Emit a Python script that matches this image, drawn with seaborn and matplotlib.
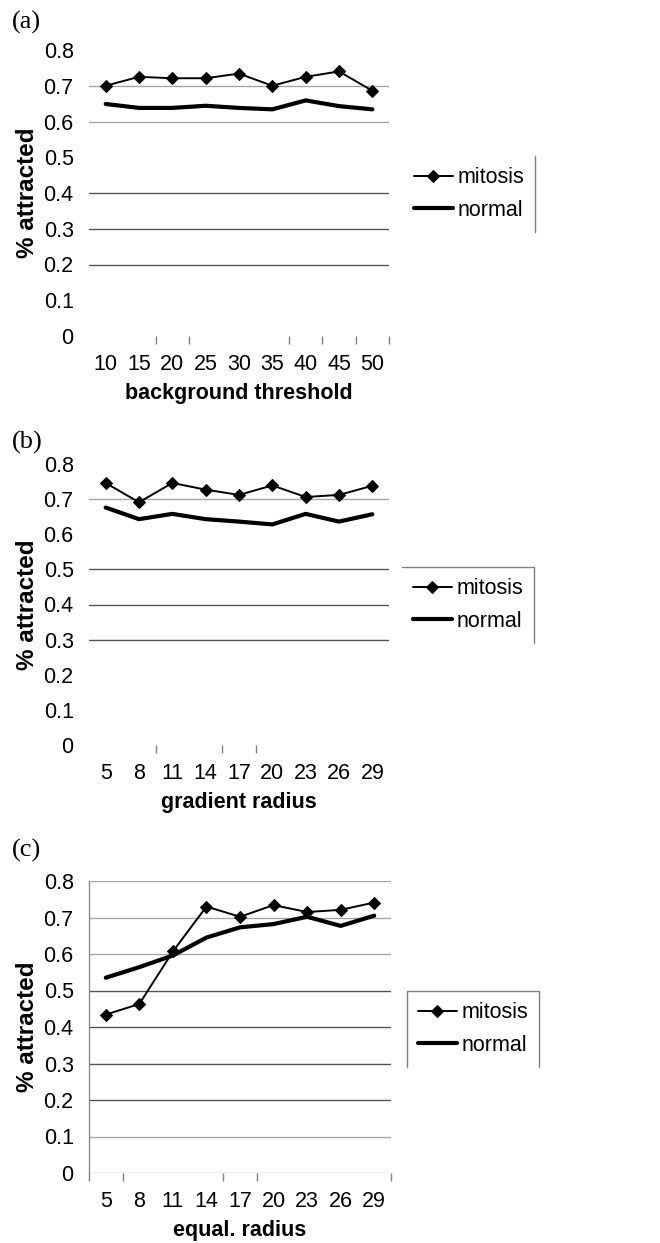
import numpy as np
import pandas as pd
import matplotlib
matplotlib.use("Agg")
import matplotlib.pyplot as plt
from matplotlib import font_manager
from matplotlib.lines import Line2D
import seaborn as sns

# ---------------- data ----------------
thresholds = [10, 15, 20, 25, 30, 35, 40, 45, 50]
a_mitosis = [0.700, 0.725, 0.721, 0.721, 0.734, 0.700, 0.725, 0.740, 0.686]
a_normal = [0.649, 0.638, 0.638, 0.644, 0.638, 0.634, 0.659, 0.643, 0.634]

radii = [5, 8, 11, 14, 17, 20, 23, 26, 29]
b_mitosis = [0.746, 0.691, 0.746, 0.727, 0.712, 0.739, 0.706, 0.712, 0.738]
b_normal = [0.676, 0.643, 0.658, 0.643, 0.636, 0.628, 0.658, 0.636, 0.657]

c_mitosis = [0.434, 0.463, 0.607, 0.730, 0.702, 0.734, 0.715, 0.721, 0.741]
c_normal = [0.535, 0.564, 0.596, 0.645, 0.673, 0.682, 0.702, 0.677, 0.705]

y_ticks = [0, 0.1, 0.2, 0.3, 0.4, 0.5, 0.6, 0.7, 0.8]
y_tick_labels = ["0", "0.1", "0.2", "0.3", "0.4", "0.5", "0.6", "0.7", "0.8"]
series_names = ["mitosis", "normal"]
panel_tags = ["(a)", "(b)", "(c)"]
x_titles = ["background threshold", "gradient radius", "equal. radius"]
y_title = "% attracted"

# ---------------- style ----------------
sns.set_theme(style="white")
available = {f.name for f in font_manager.fontManager.ttflist}
narrow = "Liberation Sans Narrow" if "Liberation Sans Narrow" in available else "Liberation Sans"
plt.rcParams["font.family"] = [narrow, "DejaVu Sans"]
plt.rcParams["text.color"] = "black"
plt.rcParams["axes.labelcolor"] = "black"
plt.rcParams["xtick.color"] = "black"
plt.rcParams["ytick.color"] = "black"

LIGHT = "#a6a6a6"
DARK = "#555555"

W, H = 660, 1243
fig = plt.figure(figsize=(W / 100, H / 100), dpi=100)
fig.patch.set_facecolor("white")

# panel geometry in pixels: (left, right, top, bottom)
geoms = [(89, 389, 50, 336), (89, 389, 464, 745), (89, 391, 881, 1173)]
panels = [
    dict(cats=thresholds, mit=a_mitosis, nor=a_normal,
         grid={0.2: DARK, 0.3: DARK, 0.4: DARK, 0.6: LIGHT, 0.7: LIGHT},
         xticks_vis=[2, 3, 6, 7, 8, 9], spine=False,
         leg_cy=194, leg_x=403, edges=["right"], tag_y=22),
    dict(cats=radii, mit=b_mitosis, nor=b_normal,
         grid={0.3: DARK, 0.4: DARK, 0.5: DARK, 0.7: LIGHT},
         xticks_vis=[2, 4, 5], spine=False,
         leg_cy=605, leg_x=402, edges=["top", "right"], tag_y=442),
    dict(cats=radii, mit=c_mitosis, nor=c_normal,
         grid={0.0: LIGHT, 0.1: LIGHT, 0.2: DARK, 0.3: DARK, 0.4: DARK,
               0.5: DARK, 0.6: LIGHT, 0.7: LIGHT, 0.8: LIGHT},
         xticks_vis=[0, 1, 4, 5, 9], spine=True,
         leg_cy=1029, leg_x=407, edges=["left", "top", "right"], tag_y=850),
]

legends = []
for i, (p, g) in enumerate(zip(panels, geoms)):
    l, r, t, b = g
    ax = fig.add_axes([l / W, 1 - b / H, (r - l) / W, (b - t) / H])
    ax.set_facecolor("white")
    pos = np.arange(len(p["cats"]))
    df = pd.DataFrame({"pos": pos, "mitosis": p["mit"], "normal": p["nor"]})

    sns.lineplot(data=df, x="pos", y="mitosis", ax=ax, color="black",
                 linewidth=1.4, marker="D", markersize=6.5,
                 markeredgecolor="black", markerfacecolor="black",
                 label=series_names[0], legend=False)
    sns.lineplot(data=df, x="pos", y="normal", ax=ax, color="black",
                 linewidth=3.0, label=series_names[1], legend=False)

    ax.set_xlim(-0.5, len(pos) - 0.5)
    ax.set_ylim(0, 0.8)

    # y axis: gridlines per level
    ax.set_yticks(y_ticks)
    ax.set_yticklabels(y_tick_labels)
    ax.tick_params(axis="y", length=6, width=1, pad=5, labelsize=15.5,
                   labelcolor="black")
    ax.yaxis.grid(True)
    for lvl, gl, tk in zip(y_ticks, ax.yaxis.get_gridlines(),
                           ax.yaxis.get_major_ticks()):
        key = round(lvl, 1)
        if key in p["grid"]:
            gl.set_visible(True)
            gl.set_color(p["grid"][key])
            gl.set_linewidth(1.0)
            tk.tick1line.set_color(p["grid"][key])
        else:
            gl.set_visible(False)
            tk.tick1line.set_visible(False)
    ax.xaxis.grid(False)

    # x axis
    ax.set_xticks(pos)
    ax.set_xticklabels([str(c) for c in p["cats"]])
    ax.tick_params(axis="x", which="major", length=0, pad=13, labelsize=15.5,
                   labelcolor="black")
    bounds = np.arange(len(pos) + 1) - 0.5
    ax.set_xticks(bounds, minor=True)
    ax.tick_params(axis="x", which="minor", length=6, width=1, color="#808080",
                   direction="out")
    for k, tk in enumerate(ax.xaxis.get_minor_ticks()):
        tk.tick1line.set_visible(k in p["xticks_vis"])

    for s in ["top", "right", "bottom"]:
        ax.spines[s].set_visible(False)
    ax.spines["left"].set_visible(p["spine"])
    ax.spines["left"].set_color("#8c8c8c")
    ax.spines["left"].set_linewidth(1.0)

    ax.set_xlabel(x_titles[i], fontsize=15.5, fontweight="bold", labelpad=6,
                  family=[narrow, "DejaVu Sans"], color="black")
    ax.set_ylabel(y_title, fontsize=17.5, fontweight="bold", labelpad=3,
                  family=["Liberation Sans", "DejaVu Sans"], color="black")

    handles = ax.get_lines()[:2]
    leg = ax.legend(handles=handles, labels=series_names, loc="center left",
                    bbox_to_anchor=(p["leg_x"] / W, 1 - p["leg_cy"] / H),
                    bbox_transform=fig.transFigure, frameon=False,
                    fontsize=15.5, handlelength=1.8, handletextpad=0.25,
                    labelspacing=0.55, borderpad=0.5, borderaxespad=0)
    for txt in leg.get_texts():
        txt.set_color("black")
    legends.append((leg, p["edges"]))

    fig.text(12 / W, 1 - p["tag_y"] / H, panel_tags[i], ha="left", va="center",
             fontsize=19, family=["Liberation Serif", "DejaVu Serif"],
             color="black")

# partial legend frames
fig.canvas.draw()
inv = fig.transFigure.inverted()
for leg, edges in legends:
    bb = leg.get_window_extent().transformed(inv)
    x0, y0, x1, y1 = bb.x0, bb.y0, bb.x1, bb.y1
    segs = {"left": ([x0, x0], [y0, y1]), "right": ([x1, x1], [y0, y1]),
            "top": ([x0, x1], [y1, y1]), "bottom": ([x0, x1], [y0, y0])}
    for e in edges:
        xs, ys = segs[e]
        fig.add_artist(Line2D(xs, ys, transform=fig.transFigure,
                              color="#808080", linewidth=1.0))

fig.savefig("out.png", dpi=100, facecolor="white")
